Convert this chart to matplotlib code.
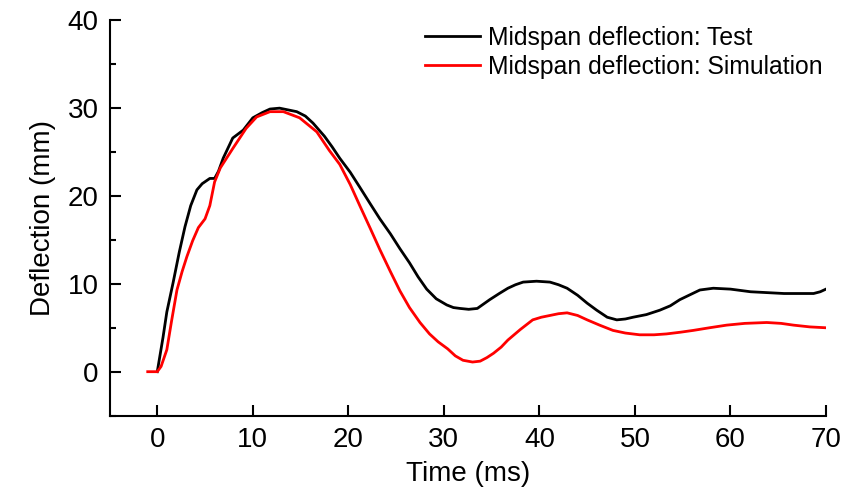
import matplotlib
matplotlib.use("Agg")
import matplotlib.pyplot as plt
from matplotlib.ticker import MultipleLocator

plt.rcParams["font.family"] = ["Liberation Sans", "DejaVu Sans"]

# Midspan deflection, test record (time in ms, deflection in mm)
test_time = [0, 0.6, 1.0, 1.65, 2.3, 2.9, 3.5, 4.15, 4.7, 5.5, 6.0, 6.4, 6.9,
             7.9, 9.0, 10.0, 11.0, 11.8, 12.8, 13.7, 14.6, 15.5, 16.3, 17.5,
             18.3, 19.1, 20.2, 21.2, 22.3, 23.3, 24.4, 25.4, 26.4, 27.3, 28.2,
             29.2, 30.3, 31.0, 31.7, 32.6, 33.5, 34.8, 35.8, 36.7, 37.5, 38.3,
             39.7, 41.1, 42.0, 42.9, 44.0, 45.0, 46.0, 47.1, 48.1, 49.0, 49.8,
             51.2, 52.6, 53.7, 54.7, 56.8, 58.2, 60.0, 62.1, 65.6, 68.7, 69.4,
             70.0]
test_defl = [0, 3.9, 6.8, 10.1, 13.6, 16.5, 18.9, 20.7, 21.4, 22.0, 22.0, 22.8,
             24.3, 26.6, 27.5, 28.9, 29.5, 29.9, 30.0, 29.8, 29.6, 29.1, 28.3,
             26.8, 25.6, 24.3, 22.7, 21.0, 19.1, 17.4, 15.7, 14.0, 12.4, 10.8,
             9.4, 8.3, 7.6, 7.3, 7.2, 7.1, 7.2, 8.2, 8.9, 9.5, 9.9, 10.2, 10.3,
             10.2, 9.9, 9.5, 8.7, 7.8, 7.0, 6.2, 5.9, 6.0, 6.2, 6.5, 7.0, 7.5,
             8.2, 9.3, 9.5, 9.4, 9.1, 8.9, 8.9, 9.1, 9.4]

# Midspan deflection, simulation
sim_time = [-1.0, 0.0, 0.4, 1.0, 1.5, 2.06, 2.6, 3.1, 3.7, 4.3, 5.0, 5.5, 6.0,
            6.6, 7.9, 9.3, 10.4, 11.8, 13.2, 14.9, 16.7, 18.0, 19.1, 20.2,
            21.2, 22.3, 23.3, 24.4, 25.4, 26.4, 27.5, 28.5, 29.4, 30.4, 31.2,
            32.0, 33.0, 33.8, 34.5, 35.2, 36.0, 36.7, 38.0, 39.3, 40.2, 41.1,
            42.0, 42.9, 44.0, 45.0, 46.3, 47.7, 49.0, 50.5, 52.0, 53.3, 54.8,
            56.1, 57.8, 59.6, 61.5, 63.8, 65.3, 66.6, 68.3, 70.0]
sim_defl = [0, 0, 0.6, 2.5, 5.8, 9.3, 11.4, 13.1, 14.9, 16.4, 17.4, 18.9, 21.6,
            23.2, 25.4, 27.7, 29.0, 29.6, 29.6, 28.9, 27.3, 25.2, 23.6, 21.3,
            18.9, 16.3, 13.9, 11.4, 9.2, 7.3, 5.6, 4.3, 3.4, 2.6, 1.8, 1.3,
            1.1, 1.2, 1.6, 2.1, 2.8, 3.6, 4.8, 5.9, 6.2, 6.4, 6.6, 6.7, 6.4,
            5.9, 5.3, 4.7, 4.4, 4.2, 4.2, 4.3, 4.5, 4.7, 5.0, 5.3, 5.5, 5.6,
            5.5, 5.3, 5.1, 5.0]

fig = plt.figure(figsize=(8.45, 4.99), dpi=100)
ax = fig.add_axes([0.1296, 0.1671, 0.8479, 0.7922])

ax.plot(test_time, test_defl, color="black", lw=2.0,
        label="Midspan deflection: Test")
ax.plot(sim_time, sim_defl, color="red", lw=2.0,
        label="Midspan deflection: Simulation")

ax.set_xlim(-5, 70)
ax.set_ylim(-5, 40)
ax.xaxis.set_major_locator(MultipleLocator(10))
ax.yaxis.set_major_locator(MultipleLocator(10))
ax.yaxis.set_minor_locator(MultipleLocator(5))

for side in ["top", "right"]:
    ax.spines[side].set_visible(False)
for side in ["left", "bottom"]:
    ax.spines[side].set_linewidth(1.5)

ax.tick_params(which="major", direction="in", length=8, width=1.5,
               labelsize=20, pad=8)
ax.tick_params(which="minor", direction="in", length=4.5, width=1.5)

ax.set_xlabel("Time (ms)", fontsize=20, labelpad=6)
ax.set_ylabel("Deflection (mm)", fontsize=20, labelpad=8)

ax.legend(loc="upper right", frameon=False, fontsize=17.8, handlelength=2.22,
          handletextpad=0.33, labelspacing=0.2, borderpad=0,
          borderaxespad=0, bbox_to_anchor=(0.995, 0.986))

fig.savefig("out.png", dpi=100)
